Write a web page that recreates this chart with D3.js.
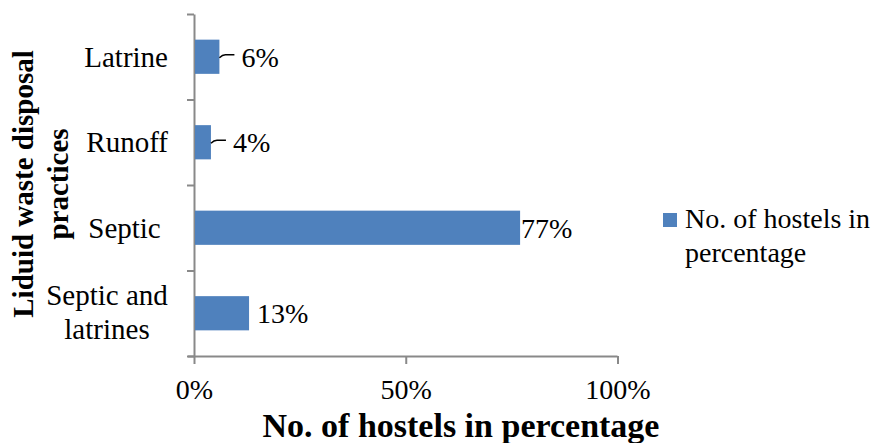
<!DOCTYPE html>
<html><head><meta charset="utf-8">
<script src="https://cdn.jsdelivr.net/npm/d3@7/dist/d3.min.js"></script>
<style>
body{margin:0;background:#fff;}
svg text{font-family:"Liberation Serif","Times New Roman",Times,serif !important;fill:#000;}
</style></head>
<body><svg id="c" width="882" height="443" font-family="Liberation Serif, serif"></svg>
<script>
const categories = ["Latrine", "Runoff", "Septic\u00a0", "Septic and|latrines"];
const values = [6, 4, 77, 13];
const xTicks = [0, 50, 100];
const seriesName = ["No. of hostels in", "percentage"];
const xTitle = "No. of hostels in percentage";
const yTitle = ["Liduid waste disposal", "practices"];

(function () {
const svg = d3.select("#c");
const mL = 194, mR = 617.5, mT = 14, mB = 356;
const axisColor = "#898989", barColor = "#4F81BD", fs = 28, ff = "Liberation Serif, serif";

const x = d3.scaleLinear().domain([0, 100]).range([mL, mR]);
const y = d3.scaleBand().domain(categories).range([mT, mB]).paddingInner(0.6).paddingOuter(0.3);
const yb = d3.scaleLinear().domain([0, categories.length]).range([mT, mB]);

// x axis
const gx = svg.append("g").attr("transform", `translate(0,${mB})`)
  .call(d3.axisBottom(x).tickValues(xTicks).tickSize(8).tickSizeOuter(0).tickFormat(d => d + "%"))
  .attr("font-family", ff).attr("font-size", fs);
gx.select(".domain").attr("stroke", axisColor).attr("stroke-width", 2).attr("d", `M${mL-6},0.5H${mR}`);
gx.selectAll(".tick line").attr("stroke", axisColor).attr("stroke-width", 2);
gx.selectAll(".tick text").attr("font-size", fs).attr("font-family", ff).attr("dy", null).attr("y", 43);

// y axis (boundaries)
const gy = svg.append("g").attr("transform", `translate(${mL},0)`)
  .call(d3.axisLeft(yb).tickValues(d3.range(categories.length + 1)).tickSize(7).tickSizeOuter(0).tickFormat(""));
gy.select(".domain").attr("stroke", axisColor).attr("stroke-width", 2);
gy.selectAll(".tick line").attr("stroke", axisColor).attr("stroke-width", 2);

// bars
svg.append("g").selectAll("rect").data(values).join("rect")
  .attr("x", x(0) + 1)
  .attr("y", (d, i) => y(categories[i]))
  .attr("width", d => x(d) - x(0) - 1)
  .attr("height", y.bandwidth())
  .attr("fill", barColor);

// data labels
const lab = svg.append("g").attr("font-family", ff);
values.forEach((v, i) => {
  const cy = y(categories[i]) + y.bandwidth() / 2;
  const small = v < 10;
  const lx = x(v) + (small ? 22 : (v > 50 ? 1 : 8));
  if (small) {
    lab.append("path").attr("d", `M${x(v)},${cy + 1}Q${x(v) + 3},${cy - 2} ${x(v) + 6},${cy - 2}H${lx - 7}`)
      .attr("fill", "none").attr("stroke", "#000").attr("stroke-width", 1.5);
  }
  lab.append("text").attr("x", lx).attr("y", cy + 10).attr("font-size", fs).text(v + "%");
});

// category labels
const cg = svg.append("g").attr("font-family", ff);
categories.forEach(c => {
  const lines = c.split("|");
  const cy = y(c) + y.bandwidth() / 2;
  if (lines.length === 1) {
    cg.append("text").attr("x", 168).attr("y", cy + 10).attr("text-anchor", "end").attr("font-size", 29).text(lines[0]);
  } else {
    const t = cg.append("text").attr("font-size", 29).attr("text-anchor", "middle");
    lines.forEach((l, k) => t.append("tspan").attr("x", 107).attr("y", cy - 8 + k * 34).text(l));
  }
});

// y title
const yt = svg.append("text").attr("transform", "translate(0,184) rotate(-90)").attr("font-family", ff)
  .attr("text-anchor", "middle").attr("font-size", 29).attr("font-weight", "bold");
yTitle.forEach((l, k) => yt.append("tspan").attr("x", 0).attr("y", 33 + k * 35).text(l));

// x title
svg.append("text").attr("x", 461).attr("y", 437).attr("text-anchor", "middle").attr("font-family", ff)
  .attr("font-size", 34).attr("font-weight", "bold").text(xTitle);

// legend
svg.append("rect").attr("x", 663).attr("y", 213).attr("width", 14).attr("height", 14).attr("fill", barColor);
const lt = svg.append("text").attr("font-size", fs).attr("font-family", ff);
seriesName.forEach((l, k) => lt.append("tspan").attr("x", 685).attr("y", 228 + k * 34).text(l));
})();
</script></body></html>
